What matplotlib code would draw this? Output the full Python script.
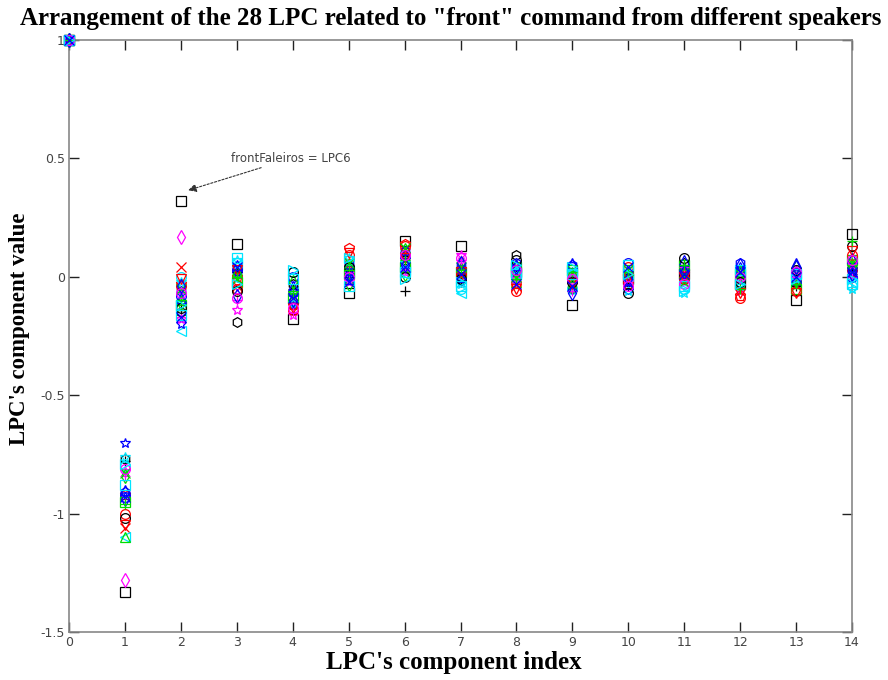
import matplotlib
matplotlib.use("Agg")
import matplotlib.pyplot as plt
import numpy as np

# LPC component indices
lpc_index = list(range(15))

# 28 speakers: colour / marker (MATLAB-like styles)
speaker_colors = ['k', 'm', 'r', 'c', 'b', 'g', 'k', 'r', 'b', 'k', 'm', 'c', 'g', 'b',
                  'r', 'g', 'c', 'm', 'b', 'k', 'g', 'r', 'c', 'b', 'g', 'm', 'c', 'b']
speaker_markers = ['s', 'd', 'x', '<', '*', '^', 'h', 'p', 'o', '+', '*', 'o', 's', 'h',
                   'o', 'd', '*', '+', '^', 'o', 'x', 'v', 's', 'd', '+', 'o', '>', 'x']

# values of each LPC component for the 28 speakers
lpc0 = [1.0] * 28
lpc1 = [-1.33, -1.28, -1.06, -1.10, -0.70, -1.10, -0.77, -0.92, -0.93, -0.78, -0.82, -0.80, -0.95, -0.91,
        -1.00, -0.84, -0.76, -0.84, -0.90, -1.02, -0.83, -1.05, -0.88, -0.94, -0.96, -0.81, -0.79, -0.93]
lpc2 = [0.32, 0.17, 0.04, -0.23, -0.20, -0.10, -0.15, -0.03, -0.08, -0.14, -0.18, 0.00, -0.12, -0.06,
        -0.04, -0.11, -0.02, -0.07, -0.09, -0.13, -0.05, -0.01, -0.16, -0.04, -0.10, -0.07, -0.12, -0.17]
lpc3 = [0.14, -0.03, -0.04, 0.05, 0.01, 0.02, -0.19, 0.00, 0.03, 0.02, -0.14, 0.06, -0.02, 0.04,
        -0.05, 0.01, 0.07, -0.10, 0.05, -0.06, -0.01, 0.03, 0.08, -0.08, 0.00, -0.09, -0.03, 0.04]
lpc4 = [-0.18, -0.10, -0.08, -0.06, -0.12, -0.05, -0.03, -0.12, 0.00, -0.05, -0.16, 0.02, -0.09, -0.07,
        -0.14, -0.02, -0.11, -0.15, -0.04, 0.02, -0.08, -0.13, -0.01, -0.10, -0.06, -0.13, 0.03, -0.09]
lpc5 = [-0.07, 0.03, 0.05, 0.02, 0.00, 0.06, 0.04, 0.12, 0.03, 0.00, -0.02, 0.07, 0.01, 0.05,
        0.09, -0.03, 0.08, 0.02, -0.01, 0.04, 0.06, 0.10, -0.04, 0.01, 0.03, 0.00, 0.08, -0.02]
lpc6 = [0.15, 0.06, 0.10, 0.03, 0.08, 0.12, 0.07, 0.14, 0.05, -0.06, 0.02, 0.09, 0.04, 0.11,
        0.13, 0.01, 0.06, 0.03, 0.10, 0.00, 0.12, 0.08, 0.02, 0.05, 0.07, 0.09, -0.01, 0.04]
lpc7 = [0.13, 0.02, 0.01, -0.07, -0.02, 0.04, 0.00, 0.03, 0.03, -0.02, 0.09, -0.05, 0.02, 0.05,
        0.01, 0.06, -0.03, 0.07, 0.00, -0.01, 0.04, 0.02, -0.04, 0.06, 0.03, 0.08, -0.02, 0.01]
lpc8 = [0.02, 0.00, -0.04, 0.01, 0.03, -0.02, 0.09, -0.03, 0.02, 0.01, -0.01, 0.00, 0.04, 0.06,
        -0.06, 0.02, 0.03, -0.02, 0.05, 0.07, 0.00, -0.05, 0.01, 0.04, -0.01, 0.03, 0.05, -0.03]
lpc9 = [-0.12, -0.02, 0.00, 0.02, -0.03, 0.01, -0.05, 0.00, 0.04, 0.00, 0.01, -0.05, 0.03, 0.05,
        -0.01, -0.04, 0.02, -0.06, 0.06, -0.02, 0.03, -0.03, 0.01, -0.07, 0.02, -0.01, 0.04, -0.04]
lpc10 = [-0.01, 0.01, -0.02, -0.01, 0.01, 0.02, 0.00, -0.03, 0.06, -0.04, -0.02, 0.00, 0.03, -0.05,
         0.04, 0.01, -0.06, 0.02, -0.03, -0.07, 0.03, 0.00, 0.05, -0.01, 0.02, -0.04, 0.01, 0.04]
lpc11 = [0.01, 0.00, 0.02, -0.03, 0.04, 0.00, 0.06, 0.01, 0.03, -0.01, -0.02, -0.05, 0.05, 0.02,
         -0.01, 0.03, -0.07, 0.04, 0.07, 0.08, -0.02, 0.00, -0.04, 0.02, 0.05, -0.03, -0.06, 0.01]
lpc12 = [-0.03, -0.04, -0.05, 0.00, 0.02, -0.03, -0.01, -0.08, 0.03, 0.00, -0.06, -0.02, 0.01, 0.06,
         -0.09, 0.02, -0.04, -0.01, 0.04, -0.02, 0.01, -0.07, 0.03, 0.05, -0.05, 0.00, -0.03, 0.02]
lpc13 = [-0.10, 0.00, -0.02, 0.01, -0.03, 0.02, 0.00, -0.02, -0.02, -0.04, 0.03, 0.02, -0.05, 0.01,
         -0.06, 0.04, -0.01, 0.00, 0.06, 0.03, -0.04, -0.07, 0.01, 0.04, -0.03, 0.02, -0.01, 0.00]
lpc14 = [0.18, 0.03, 0.05, -0.02, 0.02, 0.06, 0.04, 0.02, 0.00, 0.01, 0.05, -0.04, 0.07, 0.03,
         0.09, 0.04, -0.05, 0.00, 0.08, 0.13, 0.06, 0.11, -0.03, 0.01, 0.15, 0.07, -0.01, 0.02]

y_ticks = [-1.5, -1, -0.5, 0, 0.5, 1]
y_tick_labels = ['-1.5', '-1', '-0.5', '0', '0.5', '1']
x_ticks = list(range(15))

title_text = 'Arrangement of the 28 LPC related to "front" command from different speakers'
annot_text = 'frontFaleiros = LPC6'

color_map = {'b': '#0000ff', 'g': '#00dd00', 'r': '#ff0000', 'c': '#00e5ff',
             'm': '#ff00ff', 'k': '#000000'}

table = np.array([lpc0, lpc1, lpc2, lpc3, lpc4, lpc5, lpc6, lpc7, lpc8, lpc9,
                  lpc10, lpc11, lpc12, lpc13, lpc14])  # shape 15 x 28

fig = plt.figure(figsize=(8.88, 6.80), dpi=100)
ax = fig.add_axes([0.0777, 0.0706, 0.8818, 0.8706])

for s in range(28):
    m = speaker_markers[s]
    c = color_map[speaker_colors[s]]
    if m in ('x', '+'):
        kw = dict(color=c)
    else:
        kw = dict(markerfacecolor='none', markeredgecolor=c)
    ax.plot(lpc_index, table[:, s], linestyle='none', marker=m, markersize=7,
            markeredgewidth=0.9, clip_on=False, zorder=3, **kw)

ax.set_xlim(0, 14)
ax.set_ylim(-1.5, 1)
ax.set_xticks(x_ticks)
ax.set_yticks(y_ticks)
ax.set_yticklabels(y_tick_labels)
ax.tick_params(direction='in', length=7, width=1, top=True, right=True,
               labelsize=9, colors='#222222', pad=3)
for lab in ax.get_xticklabels() + ax.get_yticklabels():
    lab.set_color('#444444')
for sp in ax.spines.values():
    sp.set_color('#888888')
    sp.set_linewidth(1.2)

ax.set_xlabel("LPC's component index", fontsize=18, fontweight='bold',
              family='Liberation Serif')
ax.xaxis.set_label_coords(0.492, -0.032)
ax.set_ylabel("LPC's component value", fontsize=16.5, fontweight='bold',
              family='Liberation Serif')
ax.yaxis.set_label_coords(-0.05, 0.512)
fig.text(0.507, 0.99, title_text, ha='center', va='top', fontsize=18,
         fontweight='bold', family='Liberation Serif')

ax.annotate(annot_text, xy=(2.13, 0.365), xytext=(2.9, 0.50),
            fontsize=8.5, color='#444444', va='center', ha='left',
            arrowprops=dict(arrowstyle='-|>', linestyle=(0, (2, 1.5)), color='#333333',
                            lw=0.8, mutation_scale=12, shrinkA=0, shrinkB=0))

fig.savefig('out.png', dpi=100)
